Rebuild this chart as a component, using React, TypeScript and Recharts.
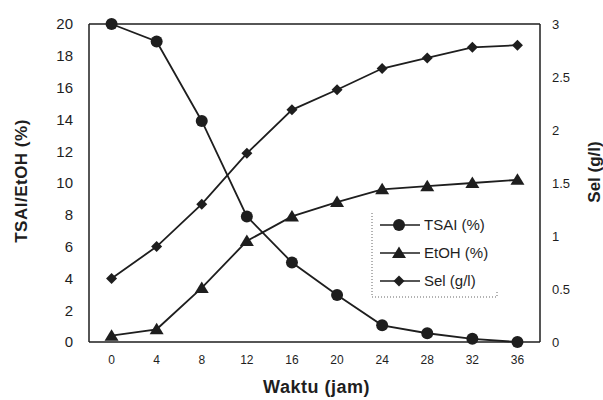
import {Line, LineChart, ReferenceLine, XAxis, YAxis} from 'recharts';

const hours = [0, 4, 8, 12, 16, 20, 24, 28, 32, 36];
const tsai = [20, 18.9, 13.9, 7.9, 5.0, 2.95, 1.05, 0.55, 0.2, 0];
const etoh = [0.4, 0.8, 3.4, 6.35, 7.9, 8.8, 9.6, 9.8, 10.0, 10.2];
const sel = [0.6, 0.9, 1.3, 1.78, 2.19, 2.38, 2.58, 2.68, 2.78, 2.8];

const xTicks = [0, 4, 8, 12, 16, 20, 24, 28, 32, 36];
const leftTicks = [0, 2, 4, 6, 8, 10, 12, 14, 16, 18, 20];
const rightTicks = [0, 0.5, 1, 1.5, 2, 2.5, 3];

const data = hours.map((h, i) => ({jam: h, tsai: tsai[i], etoh: etoh[i], sel: sel[i]}));

const INK = '#1e1e1e';
const FONT = '"Liberation Sans", Arial, sans-serif';

const Circle = ({cx, cy}: any) => <circle cx={cx} cy={cy} r={6} fill={INK}/>;
const Triangle = ({cx, cy}: any) => (
    <path d={`M${cx},${cy - 6.5} L${cx + 7},${cy + 5} L${cx - 7},${cy + 5} Z`} fill={INK}/>
);
const Diamond = ({cx, cy}: any) => (
    <path d={`M${cx},${cy - 5.5} L${cx + 5.5},${cy} L${cx},${cy + 5.5} L${cx - 5.5},${cy} Z`} fill={INK}/>
);

const legendRows = [
    {label: 'TSAI (%)', Mark: Circle},
    {label: 'EtOH (%)', Mark: Triangle},
    {label: 'Sel (g/l)', Mark: Diamond},
];

// legend drawn on top of the plot, like the original's boxed legend
const LegendBox = () => (
    <svg width={130} height={90} style={{display: 'block'}}>
        <path d="M1,2 L1,86 L126,86 L126,80" stroke="#666" strokeDasharray="1 2" fill="none"/>
        {legendRows.map((r, i) => {
            const y = 14 + i * 28;
            return (
                <g key={r.label}>
                    <line x1={9} x2={49} y1={y} y2={y} stroke={INK} strokeWidth={1.5}/>
                    <r.Mark cx={28} cy={y}/>
                    <text x={53} y={y + 5} fontSize={15} fontFamily={FONT} fill={INK}>{r.label}</text>
                </g>
            );
        })}
    </svg>
);

export default function App() {
    return (
        <div style={{position: 'absolute', left: 0, top: 0, width: 603, height: 400, background: '#fff'}}>
            <LineChart width={603} height={400} data={data}
                       margin={{top: 24, right: 0, bottom: 0, left: 0}}>
                <XAxis dataKey="jam" type="number" domain={[-2, 38]} ticks={xTicks}
                       height={58} tickLine={false} tickSize={0} tickMargin={13}
                       axisLine={{stroke: INK, strokeWidth: 1.5}}
                       tick={{fontSize: 12, fontFamily: FONT, fill: INK}}
                       label={({viewBox}: any) => (
                           <text x={viewBox.x + viewBox.width / 2 + 2} y={viewBox.y + 51} textAnchor="middle"
                                 fontSize={18} fontWeight="bold" letterSpacing={0.5}
                                 fontFamily={FONT} fill={INK}>Waktu (jam)</text>
                       )}/>
                <YAxis yAxisId="left" domain={[0, 20]} ticks={leftTicks} width={89}
                       tickLine={false} tickSize={0} tickMargin={16}
                       axisLine={{stroke: INK, strokeWidth: 1.5}}
                       tick={{fontSize: 15, fontFamily: FONT, fill: INK}}
                       label={({viewBox}: any) => {
                           const x = viewBox.x + 27;
                           const y = 181;
                           return (
                               <text x={x} y={y} transform={`rotate(-90 ${x} ${y})`} textAnchor="middle"
                                     fontSize={17} fontWeight="bold" letterSpacing={0.5}
                                     fontFamily={FONT} fill={INK}>TSAI/EtOH (%)</text>
                           );
                       }}/>
                <YAxis yAxisId="right" orientation="right" domain={[0, 3]} ticks={rightTicks} width={63}
                       tickLine={false} tickSize={0} tickMargin={12}
                       axisLine={{stroke: INK, strokeWidth: 1.5}}
                       tick={{fontSize: 13, fontFamily: FONT, fill: INK}}
                       label={({viewBox}: any) => {
                           const x = viewBox.x + 60;
                           const y = 172;
                           return (
                               <text x={x} y={y} transform={`rotate(-90 ${x} ${y})`} textAnchor="middle"
                                     fontSize={17} fontWeight="bold" fontFamily={FONT} fill={INK}>Sel (g/l)</text>
                           );
                       }}/>
                <ReferenceLine yAxisId="left" y={20} stroke={INK} strokeWidth={1.5}/>
                <Line yAxisId="left" dataKey="tsai" stroke={INK} strokeWidth={1.8} dot={<Circle/>}
                      activeDot={false} isAnimationActive={false}/>
                <Line yAxisId="left" dataKey="etoh" stroke={INK} strokeWidth={1.8} dot={<Triangle/>}
                      activeDot={false} isAnimationActive={false}/>
                <Line yAxisId="right" dataKey="sel" stroke={INK} strokeWidth={1.8} dot={<Diamond/>}
                      activeDot={false} isAnimationActive={false}/>
            </LineChart>
            <div style={{position: 'absolute', left: 371, top: 211}}>
                <LegendBox/>
            </div>
        </div>
    );
}
